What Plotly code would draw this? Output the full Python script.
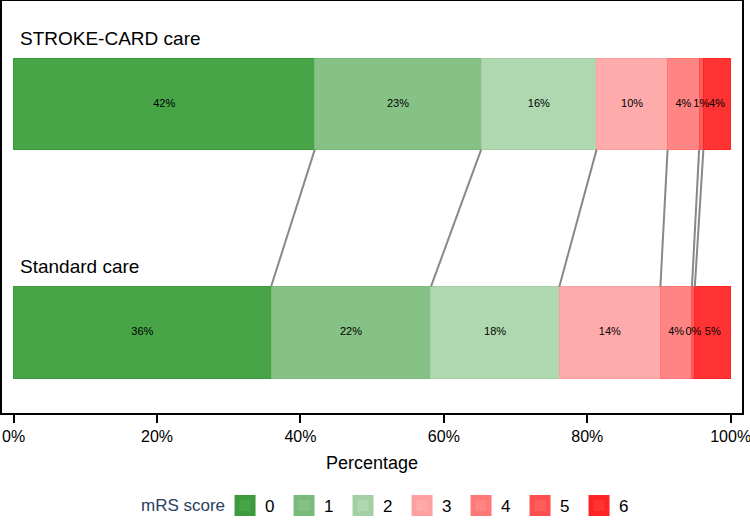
import plotly.graph_objects as go

# ---- data ----
groups = ["STROKE-CARD care", "Standard care"]
scores = ["0", "1", "2", "3", "4", "5", "6"]
stroke_card = [42.0, 23.2, 16.1, 9.9, 4.4, 0.6, 3.8]
standard = [35.9, 22.3, 17.9, 14.1, 4.4, 0.4, 5.0]
tick_vals = [0, 20, 40, 60, 80, 100]
tick_text = ["0%", "20%", "40%", "60%", "80%", "100%"]

fills = ["#47a447", "#86c286", "#b0d8b0", "#ffabab", "#ff8585", "#ff5c5c", "#ff3333"]
borders = ["#3d9b3d", "#7aba7a", "#a3cfa3", "#ffa0a0", "#ff7878", "#ff4f4f", "#ff2424"]

FONT = "Liberation Sans, Arial, sans-serif"
y_pos = [1, 0]
half_w = 0.2

fig = go.Figure()

for i, s in enumerate(scores):
    vals = [stroke_card[i], standard[i]]
    fig.add_trace(go.Bar(
        x=vals, y=y_pos, orientation="h", width=2 * half_w,
        marker=dict(color=fills[i], line=dict(color=borders[i], width=1)),
        showlegend=False, hoverinfo="skip",
    ))

# segment labels (centred in each stacked segment, drawn above all bars)
for series, yp in zip([stroke_card, standard], y_pos):
    centers, cum = [], 0.0
    for v in series:
        centers.append(cum + v / 2)
        cum += v
    fig.add_trace(go.Scatter(
        x=centers, y=[yp] * len(series), mode="text",
        text=[f"{v:.0f}%" for v in series],
        textposition="middle center",
        textfont=dict(family=FONT, size=11, color="black"),
        showlegend=False, hoverinfo="skip", cliponaxis=False,
    ))

# connecting lines between cumulative boundaries
cum_top, cum_bot = [], []
t = b = 0.0
for i in range(len(scores) - 1):
    t += stroke_card[i]
    b += standard[i]
    cum_top.append(t)
    cum_bot.append(b)
for ct, cb in zip(cum_top, cum_bot):
    fig.add_trace(go.Scatter(
        x=[ct, cb], y=[y_pos[0] - half_w, y_pos[1] + half_w], mode="lines",
        line=dict(color="rgb(136,136,136)", width=2),
        showlegend=False, hoverinfo="skip",
    ))

# legend entries
for i, s in enumerate(scores):
    fig.add_trace(go.Scatter(
        x=[None], y=[None], mode="markers", name=s,
        marker=dict(symbol="square", size=16, color=fills[i],
                    line=dict(color=borders[i], width=5)),
        showlegend=True,
    ))

# group labels
for g, yp in zip(groups, y_pos):
    fig.add_annotation(
        x=0.65, y=yp + half_w, xref="x", yref="y", text=g, showarrow=False,
        xanchor="left", yanchor="middle", yshift=20,
        font=dict(family=FONT, size=19, color="black"),
    )

# legend title
fig.add_annotation(
    x=0.304, y=-0.2256, xref="paper", yref="paper", text="mRS score",
    showarrow=False, xanchor="right", yanchor="middle",
    font=dict(family=FONT, size=17, color="#2a3f5f"),
)

fig.update_layout(
    width=750, height=527,
    margin=dict(l=2, r=8, t=1, b=114, autoexpand=False),
    barmode="stack",
    plot_bgcolor="white", paper_bgcolor="white",
    font=dict(family=FONT, color="black"),
    legend=dict(
        orientation="h", x=0.3014, xanchor="left", y=-0.2256, yanchor="middle",
        traceorder="normal",
        font=dict(family=FONT, size=17, color="black"),
        entrywidth=14, entrywidthmode="pixels",
        bgcolor="rgba(0,0,0,0)",
    ),
    xaxis=dict(
        range=[-1.62, 101.58], tickvals=tick_vals, ticktext=tick_text,
        ticklabeloverflow="allow",
        showgrid=False, zeroline=False, automargin=False,
        showline=True, linecolor="black", linewidth=1.5, mirror=True,
        ticks="outside", ticklen=8, tickwidth=1.5, tickcolor="black",
        tickfont=dict(family=FONT, size=16, color="black"),
        title=dict(text="Percentage", font=dict(family=FONT, size=18, color="black"), standoff=12),
    ),
    yaxis=dict(
        range=[-0.353, 1.4506], showticklabels=False, ticks="",
        showgrid=False, zeroline=False, automargin=False,
        showline=True, linecolor="black", linewidth=1.5, mirror=True,
    ),
)

fig.write_html("out.html", config={"displayModeBar": False},
               post_script="document.body.style.margin='0px';")
